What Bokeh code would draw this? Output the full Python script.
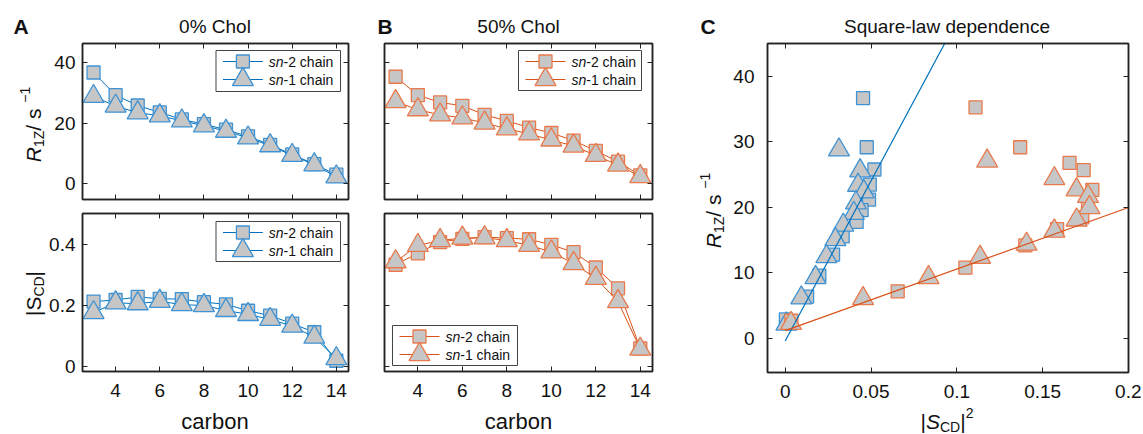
import numpy as np
from bokeh.plotting import figure
from bokeh.models import (LinearAxis, FixedTicker, Range1d,
                          CustomJSTickFormatter, NumeralTickFormatter)
from bokeh.layouts import row, column
from bokeh.embed import file_html
from bokeh.resources import INLINE
from bokeh.core.properties import value

# ---------------- data ----------------
carbons = [3, 4, 5, 6, 7, 8, 9, 10, 11, 12, 13, 14]

# 0% Chol
r1z_sn2_0 = [36.7, 29.2, 25.8, 23.5, 21.2, 19.6, 17.8, 15.6, 12.8, 9.6, 6.4, 2.9]
r1z_sn1_0 = [28.8, 25.6, 23.4, 22.4, 20.7, 19.1, 17.3, 15.1, 12.5, 9.3, 6.2, 2.2]
scd_sn2_0 = [0.213, 0.218, 0.228, 0.222, 0.221, 0.211, 0.204, 0.183, 0.167, 0.141, 0.113, 0.020]
scd_sn1_0 = [0.177, 0.209, 0.206, 0.214, 0.203, 0.200, 0.184, 0.171, 0.155, 0.133, 0.097, 0.027]

# 50% Chol
r1z_sn2_50 = [35.3, 29.2, 26.8, 25.7, 22.7, 20.7, 18.5, 16.7, 14.2, 10.8, 7.2, 2.7]
r1z_sn1_50 = [27.1, 24.4, 22.7, 21.7, 20.0, 18.1, 16.4, 14.4, 12.4, 9.3, 6.1, 2.3]
scd_sn2_50 = [0.333, 0.370, 0.407, 0.417, 0.423, 0.420, 0.416, 0.398, 0.374, 0.324, 0.256, 0.060]
scd_sn1_50 = [0.343, 0.396, 0.412, 0.420, 0.421, 0.412, 0.396, 0.375, 0.337, 0.289, 0.213, 0.058]

# square-law fits: R1Z = intercept + slope * |S_CD|^2
fit_0 = [-0.4, 489.0]
fit_50 = [1.2, 94.0]
fit_x = [0.0, 0.2]

ticks_carbon = [4, 6, 8, 10, 12, 14]
ticks_r1z = [0, 20, 40]
ticks_scd = [0, 0.2, 0.4]
ticks_c_x = [0, 0.05, 0.1, 0.15, 0.2]
ticks_c_y = [0, 10, 20, 30, 40]

titles = ["0% Chol", "50% Chol", "Square-law dependence"]
panel_letters = ["A", "B", "C"]
labels_legend = ["-2 chain", "-1 chain"]

# ---------------- style ----------------
FONT = "Liberation Sans"
BLUE = "#0072BD"
BLUE_E = "#3f93d4"
ORANGE = "#D95319"
ORANGE_E = "#EA7A4B"
GREY = "#c6c6c6"
INK = "#111111"
SQ = 13
TRI = 21

xr_ab = (2.5, 14.55)
yr_r = (-5.3, 46.3)
yr_s = (-0.015, 0.5)
xr_c = (-0.0103, 0.2)
yr_c = (-5.2, 45.04)


def style_axis(ax, ticks, labels=True, fmt=None, standoff=9):
    ax.ticker = FixedTicker(ticks=ticks)
    ax.major_tick_in = 5
    ax.major_tick_out = 0
    ax.minor_tick_line_color = None
    ax.major_tick_line_color = "#222222"
    ax.axis_line_color = "#222222"
    ax.axis_line_width = 1.5
    ax.major_label_text_font = FONT
    ax.major_label_text_font_size = "19px"
    ax.major_label_text_color = INK
    if labels:
        ax.major_label_standoff = standoff
        if fmt is not None:
            ax.formatter = fmt
    else:
        ax.formatter = CustomJSTickFormatter(code="return ''")
        ax.major_label_standoff = 0


def make_fig(w, h, xr, yr, bl, br, bt, bb, xt, yt, xlab, ylab, xfmt=None, yfmt=None,
             ystand=9):
    p = figure(width=w, height=h, x_range=Range1d(*xr), y_range=Range1d(*yr),
               output_backend="svg", toolbar_location=None, title=None,
               min_border_left=bl, min_border_right=br, min_border_top=bt,
               min_border_bottom=bb)
    p.grid.visible = False
    p.outline_line_color = "#222222"
    p.outline_line_width = 1.5
    style_axis(p.xaxis[0], xt, xlab, xfmt, 12)
    style_axis(p.yaxis[0], yt, ylab, yfmt, ystand)
    top = LinearAxis()
    style_axis(top, xt, False)
    p.add_layout(top, "above")
    right = LinearAxis()
    style_axis(right, yt, False)
    p.add_layout(right, "right")
    return p


def strip(w, h):
    """A text-only figure whose data coordinates equal its pixel coordinates (y down)."""
    s = figure(frame_width=w, frame_height=h, x_range=Range1d(0, w),
               y_range=Range1d(h, 0), output_backend="svg", toolbar_location=None,
               title=None, x_axis_type=None, y_axis_type=None, min_border=0,
               min_border_left=0, min_border_right=0, min_border_top=0,
               min_border_bottom=0)
    s.grid.visible = False
    s.outline_line_color = None
    return s


W = {' ': 278, '/': 278, '|': 260, '-': 333, '\u2212': 584, '1': 556, '2': 556,
     'R': 722, 'Z': 611, 's': 500, 'S': 667, 'C': 722, 'D': 722, 'n': 556}


def tw(s, size):
    return sum(W.get(c, 556) for c in s) * size / 1000.0


def txt(p, text, x, y, size, style="normal", align="left", angle=0.0):
    p.text([x], [y], text=[text], angle=angle, text_font=value(FONT),
           text_font_size=f"{size}px", text_font_style=style, text_align=align,
           text_baseline="alphabetic", text_color=INK)


def rich(p, pieces, cx, cy, vertical=False):
    total = sum(tw(t, s) for t, s, _, _ in pieces)
    pos = 0.0
    for text, size, style, shift in pieces:
        if vertical:
            txt(p, text, cx - shift, cy + total / 2 - pos, size, style, angle=np.pi / 2)
        else:
            txt(p, text, cx - total / 2 + pos, cy - shift, size, style)
        pos += tw(text, size)


def series(p, x, y, line_color, edge, marker, size, connect=True):
    if connect:
        p.line(x, y, line_color=line_color, line_width=1)
    p.scatter(x, y, marker=marker, size=size, fill_color=GREY, line_color=edge,
              line_width=1.3)


def legend(p, geom, xr, yr, box, color, edge):
    fl, fw, ft, fh = geom
    px = lambda v: xr[0] + (v - fl) / fw * (xr[1] - xr[0])
    py = lambda v: yr[1] - (v - ft) / fh * (yr[1] - yr[0])
    x0, x1, y0, y1 = box
    p.quad(left=px(x0), right=px(x1), top=py(y0), bottom=py(y1), fill_color="white",
           line_color="#444444", line_width=1)
    for i, (mk, sz, lab) in enumerate([("square", SQ, labels_legend[0]),
                                        ("triangle", TRI, labels_legend[1])]):
        yy = py(y0 + 11 + 18 * i)
        p.line([px(x0 + 7), px(x0 + 47)], [yy, yy], line_color=color, line_width=1)
        p.scatter([px(x0 + 27)], [yy], marker=mk, size=sz, fill_color=GREY,
                  line_color=edge, line_width=1.3)
        p.text([px(x0 + 53)], [yy], text=["sn"], text_font=value(FONT),
               text_font_size="14px", text_font_style="italic", text_baseline="middle",
               text_align="left", text_color=INK)
        p.text([px(x0 + 53 + tw("sn", 14))], [yy], text=[lab], text_font=value(FONT),
               text_font_size="14px", text_baseline="middle", text_align="left",
               text_color=INK)


ylab_r = [("R", 21, "italic", 0), ("1Z", 14, "normal", -5), (" / s", 21, "normal", 0),
          ("\u22121", 14, "normal", 9)]

# ---------------- top strip: letters and titles ----------------
top = strip(1141, 40)
for letter, lx in zip(panel_letters, [13, 377, 700]):
    txt(top, letter, lx, 26, 21, "bold")
for title, tx in zip(titles, [214.5, 518, 946.5]):
    txt(top, title, tx, 26, 19, align="center")

# ---------------- y-label strip for A ----------------
labA = strip(46, 366)
rich(labA, ylab_r, 33, 81, vertical=True)
rich(labA, [("|", 21, "normal", 0), ("S", 21, "normal", 0), ("CD", 14, "normal", -5),
            ("|", 21, "normal", 0)], 33, 250, vertical=True)

# ---------------- panel A ----------------
a1 = make_fig(317, 166, xr_ab, yr_r, 35, 15, 3, 7, ticks_carbon, ticks_r1z, False, True,
              ystand=7)
series(a1, carbons, r1z_sn2_0, BLUE, BLUE_E, "square", SQ)
series(a1, carbons, r1z_sn1_0, BLUE, BLUE_E, "triangle", TRI)
legend(a1, (81, 267, 43, 156), xr_ab, yr_r, (215, 340, 50, 91), BLUE, BLUE_E)

a2 = make_fig(317, 200, xr_ab, yr_s, 35, 15, 7, 35, ticks_carbon, ticks_scd, True, True,
              yfmt=NumeralTickFormatter(format="0.[0]"), ystand=7)
series(a2, carbons, scd_sn2_0, BLUE, BLUE_E, "square", SQ)
series(a2, carbons, scd_sn1_0, BLUE, BLUE_E, "triangle", TRI)
legend(a2, (81, 267, 213, 158), xr_ab, yr_s, (215, 340, 221, 261), BLUE, BLUE_E)

# ---------------- panel B ----------------
b1 = make_fig(317, 166, xr_ab, yr_r, 21, 28, 3, 7, ticks_carbon, ticks_r1z, False, False)
series(b1, carbons, r1z_sn2_50, ORANGE, ORANGE_E, "square", SQ)
series(b1, carbons, r1z_sn1_50, ORANGE, ORANGE_E, "triangle", TRI)
legend(b1, (384, 268, 43, 156), xr_ab, yr_r, (518, 641, 50, 90), ORANGE, ORANGE_E)

b2 = make_fig(317, 200, xr_ab, yr_s, 21, 28, 7, 35, ticks_carbon, ticks_scd, True, False)
series(b2, carbons, scd_sn2_50, ORANGE, ORANGE_E, "square", SQ)
series(b2, carbons, scd_sn1_50, ORANGE, ORANGE_E, "triangle", TRI)
legend(b2, (384, 268, 213, 158), xr_ab, yr_s, (392, 517, 325, 365), ORANGE, ORANGE_E)

# ---------------- y-label strip for C ----------------
labC = strip(50, 366)
rich(labC, ylab_r, 33, 167, vertical=True)

# ---------------- panel C ----------------
c = make_fig(411, 366, xr_c, yr_c, 35, 13, 3, 34, ticks_c_x, ticks_c_y, True, True,
             xfmt=NumeralTickFormatter(format="0.[00]"), ystand=13)
s2 = lambda a: (np.array(a) ** 2).tolist()
series(c, s2(scd_sn2_0), r1z_sn2_0, BLUE, BLUE_E, "square", SQ, connect=False)
series(c, s2(scd_sn1_0), r1z_sn1_0, BLUE, BLUE_E, "triangle", TRI, connect=False)
series(c, s2(scd_sn2_50), r1z_sn2_50, ORANGE, ORANGE_E, "square", SQ, connect=False)
series(c, s2(scd_sn1_50), r1z_sn1_50, ORANGE, ORANGE_E, "triangle", TRI, connect=False)
fx = np.array(fit_x)
c.line(fx, fit_0[0] + fit_0[1] * fx, line_color=BLUE, line_width=1.2)
c.line(fx, fit_50[0] + fit_50[1] * fx, line_color=ORANGE, line_width=1.2)

# ---------------- bottom strip: x labels ----------------
bot = strip(1141, 27)
txt(bot, "carbon", 214.5, 15, 22, align="center")
txt(bot, "carbon", 518, 15, 22, align="center")
rich(bot, [("|", 21, "normal", 0), ("S", 21, "italic", 0), ("CD", 14, "normal", -5),
           ("|", 21, "normal", 0), ("2", 14, "normal", 9)], 946.5, 15)

layout = column(
    top,
    row(labA, column(a1, a2), column(b1, b2), labC, c),
    bot,
)
open("out.html", "w").write(file_html(layout, INLINE))
